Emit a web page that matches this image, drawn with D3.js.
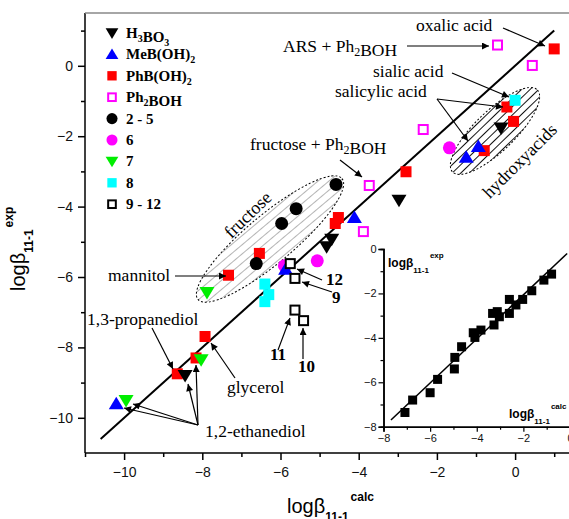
<!DOCTYPE html>
<html>
<head>
<meta charset="utf-8">
<script src="https://cdn.jsdelivr.net/npm/d3@7/dist/d3.min.js"></script>
<style>
  body { margin: 0; background: #fff; }
  text { font-family: "Liberation Sans", Arial, sans-serif; }
  .serif { font-family: "Liberation Serif", "Times New Roman", serif; }
</style>
</head>
<body>
<div id="chart"></div>
<script>
// [logb calc, logb exp]
const h3bo3 = [[-2.97, -3.82], [-0.36, -1.77], [-4.69, -4.93], [-4.82, -5.14], [-8.44, -8.8]];
const mebOH2 = [[-0.94, -2.29], [-1.25, -2.6], [-4.11, -4.31], [-5.87, -5.78], [-10.2, -9.6]];
const phbOH2 = [[1.0, 0.48], [-0.21, -1.17], [-0.04, -1.58], [-0.79, -2.41], [-2.79, -3.01],
  [-4.52, -4.31], [-4.6, -4.48], [-6.54, -5.33], [-7.33, -5.95], [-7.93, -7.69], [-8.16, -8.3], [-8.64, -8.75]];
const ph2bOH = [[-0.45, 0.59], [0.44, 0.01], [-2.35, -1.81], [-3.73, -3.4], [-3.88, -4.71]];
const cmp2to5 = [[-4.58, -3.37], [-5.6, -4.06], [-5.97, -4.48], [-6.62, -5.62]];
const cmp6 = [[-1.68, -2.33], [-5.06, -5.54], [-5.9, -5.68]];
const cmp7 = [[-7.88, -6.44], [-8.03, -8.35], [-9.95, -9.51]];
const cmp8 = [[0.0, -0.98], [-6.4, -6.2], [-6.3, -6.5], [-6.4, -6.7]];
const cmp9to12 = [[-5.75, -5.62], [-5.63, -6.04], [-5.63, -6.94], [-5.41, -7.24]];

// y = x reference line ends
const diagonal = [[-10.6, -10.6], [1.0, 1.0]];

// inset: filled squares and its fit line
const insetPoints = [[-7.08, -7.36], [-6.75, -6.8], [-6.0, -6.47], [-5.68, -5.87], [-4.96, -5.4],
  [-4.94, -4.88], [-4.65, -4.4], [-4.08, -3.98], [-4.15, -3.77], [-3.82, -3.65], [-3.26, -3.42],
  [-3.32, -2.9], [-3.12, -2.82], [-3.03, -3.05], [-2.6, -2.27], [-2.6, -2.9], [-2.32, -2.52],
  [-2.03, -2.27], [-1.64, -1.88], [-1.12, -1.4], [-0.79, -1.13]];
const insetFit = [[-7.68, -7.7], [-0.12, -0.2]];

const mainTicks = [-10, -8, -6, -4, -2, 0];
const insetTicks = [-8, -6, -4, -2, 0];

// legend order, "_x" means subscript x
const series = [
  { label: "H_3BO_3", data: h3bo3, shape: "down", color: "#000" },
  { label: "MeB(OH)_2", data: mebOH2, shape: "up", color: "#0000ff" },
  { label: "PhB(OH)_2", data: phbOH2, shape: "square", color: "#ff0000" },
  { label: "Ph_2BOH", data: ph2bOH, shape: "open", color: "#ff00ff" },
  { label: "2 - 5", data: cmp2to5, shape: "circle", color: "#000" },
  { label: "6", data: cmp6, shape: "circle", color: "#ff00ff" },
  { label: "7", data: cmp7, shape: "down", color: "#00ee00" },
  { label: "8", data: cmp8, shape: "square", color: "#00ffff" },
  { label: "9 - 12", data: cmp9to12, shape: "open", color: "#000" }
];
// draw order so overlaps look like the figure
const drawOrder = [2, 3, 4, 5, 0, 1, 6, 7, 8];

const W = 569, H = 519;
const svg = d3.select("#chart").append("svg").attr("width", W).attr("height", H);

const x = d3.scaleLinear().domain([-11, 1.5]).range([85, 85 + 12.5 * 39.1]);
const y = d3.scaleLinear().domain([-11, 1.5]).range([453, 13]);

const defs = svg.append("defs");
defs.append("marker").attr("id", "arr").attr("viewBox", "0 0 10 10")
  .attr("refX", 10).attr("refY", 5).attr("markerWidth", 9).attr("markerHeight", 7)
  .attr("markerUnits", "userSpaceOnUse").attr("orient", "auto")
  .append("path").attr("d", "M0,0 L10,5 L0,10 Z").attr("fill", "#000");

function hatch(id, color, gap) {
  const p = defs.append("pattern").attr("id", id).attr("patternUnits", "userSpaceOnUse")
    .attr("width", 8).attr("height", gap);
  p.append("rect").attr("width", 8).attr("height", gap).attr("fill", "#fff");
  p.append("line").attr("x1", 0).attr("x2", 8).attr("y1", 0.5).attr("y2", 0.5)
    .attr("stroke", color).attr("stroke-width", 1);
}
hatch("hatchGrey", "#b4b4b4", 7);
hatch("hatchDark", "#111", 6);

function marker(g, shape, color, cx, cy, s) {
  s = s || 1;
  if (shape === "square") {
    g.append("rect").attr("x", cx - 5.5 * s).attr("y", cy - 5.5 * s)
      .attr("width", 11 * s).attr("height", 11 * s).attr("fill", color);
  } else if (shape === "open") {
    g.append("rect").attr("x", cx - 4.5 * s).attr("y", cy - 4.5 * s)
      .attr("width", 9 * s).attr("height", 9 * s).attr("fill", "#fff")
      .attr("stroke", color).attr("stroke-width", 2);
  } else if (shape === "circle") {
    g.append("circle").attr("cx", cx).attr("cy", cy).attr("r", 6.5 * s).attr("fill", color);
  } else if (shape === "up") {
    g.append("path").attr("fill", color)
      .attr("d", `M${cx},${cy - 7 * s} L${cx + 7.5 * s},${cy + 5.5 * s} L${cx - 7.5 * s},${cy + 5.5 * s} Z`);
  } else if (shape === "down") {
    g.append("path").attr("fill", color)
      .attr("d", `M${cx - 7.5 * s},${cy - 5.5 * s} L${cx + 7.5 * s},${cy - 5.5 * s} L${cx},${cy + 7 * s} Z`);
  }
}

// ---- ellipses (behind everything)
function ellipse(cx, cy, rx, ry, ang, fill) {
  svg.append("ellipse").attr("cx", 0).attr("cy", 0).attr("rx", rx).attr("ry", ry)
    .attr("transform", `translate(${cx},${cy}) rotate(${ang})`)
    .attr("fill", fill).attr("stroke", "#000").attr("stroke-width", 1)
    .attr("stroke-dasharray", "2,2");
}
ellipse(270, 239, 94, 24, -40, "url(#hatchGrey)");
ellipse(495, 131, 59, 20, -44, "url(#hatchDark)");

// ---- axes
const xAxis = svg.append("g").attr("transform", `translate(0,${y(-11)})`)
  .call(d3.axisBottom(x).tickValues(mainTicks).tickSize(7).tickPadding(7).tickFormat(d3.format("d")));
const xMinor = svg.append("g").attr("transform", `translate(0,${y(-11)})`)
  .call(d3.axisBottom(x).tickValues([-11, -9, -7, -5, -3, -1, 1]).tickSize(4).tickFormat(""));
const yAxis = svg.append("g").attr("transform", `translate(${x(-11)},0)`)
  .call(d3.axisLeft(y).tickValues(mainTicks).tickSize(7).tickPadding(5).tickFormat(d3.format("d")));
const yMinor = svg.append("g").attr("transform", `translate(${x(-11)},0)`)
  .call(d3.axisLeft(y).tickValues([-9, -7, -5, -3, -1, 1]).tickSize(4).tickFormat(""));
[xAxis, xMinor, yAxis, yMinor].forEach(a => {
  a.selectAll(".domain").remove();
  a.selectAll("line").attr("stroke", "#000").attr("stroke-width", 1.5);
  a.selectAll("text").attr("font-size", 14).attr("fill", "#111")
    .style("font-family", "Liberation Sans, Arial, sans-serif");
});
svg.append("line").attr("x1", x(-11)).attr("x2", W).attr("y1", y(-11)).attr("y2", y(-11))
  .attr("stroke", "#000").attr("stroke-width", 1.5);
svg.append("line").attr("x1", x(-11)).attr("x2", x(-11)).attr("y1", y(1.5)).attr("y2", y(-11))
  .attr("stroke", "#000").attr("stroke-width", 1.5);
svg.append("line").attr("x1", x(-11)).attr("x2", W).attr("y1", y(1.5)).attr("y2", y(1.5))
  .attr("stroke", "#888").attr("stroke-width", 1.5);

// axis titles
const xt = svg.append("text").attr("x", 287).attr("y", 513).attr("font-size", 20).text("logβ");
xt.append("tspan").attr("dy", 8).attr("font-size", 12).attr("font-weight", "bold").text("11-1");
xt.append("tspan").attr("dy", -20).attr("dx", 2).attr("font-size", 12).attr("font-weight", "bold").text("calc");
const yt = svg.append("text").attr("transform", "translate(25,291) rotate(-90)").attr("font-size", 20).text("logβ");
yt.append("tspan").attr("dy", 8).attr("font-size", 12).attr("font-weight", "bold").text("11-1");
yt.append("tspan").attr("dy", -20).attr("dx", 2).attr("font-size", 12).attr("font-weight", "bold").text("exp");

// ---- y = x line
svg.append("path").datum(diagonal)
  .attr("d", d3.line().x(d => x(d[0])).y(d => y(d[1])))
  .attr("stroke", "#000").attr("stroke-width", 2).attr("fill", "none");

// ---- data points
const pts = svg.append("g");
drawOrder.forEach(i => {
  const s = series[i];
  s.data.forEach(d => marker(pts, s.shape, s.color, x(d[0]), y(d[1])));
});

// ---- legend
function subText(t, str, subSize) {
  str.split(/(_.)/).forEach(part => {
    if (part.startsWith("_")) {
      t.append("tspan").attr("dy", 4).attr("font-size", subSize).text(part.slice(1));
      t.append("tspan").attr("dy", -4).text("");
    } else if (part) {
      t.append("tspan").text(part);
    }
  });
}
const legend = svg.append("g");
series.forEach((s, i) => {
  const ly = 33 + i * 21.4;
  marker(legend, s.shape, s.color, 112, ly, 0.85);
  const t = legend.append("text").attr("class", "serif").attr("x", 126).attr("y", ly + 5)
    .attr("font-size", 15).attr("font-weight", "bold");
  subText(t, s.label, 10);
});

// ---- annotations
const notes = [
  { t: "oxalic acid", x: 416, y: 31 },
  { t: "ARS + Ph_2BOH", x: 283, y: 52 },
  { t: "sialic acid", x: 373, y: 77 },
  { t: "salicylic acid", x: 335, y: 97 },
  { t: "fructose + Ph_2BOH", x: 250, y: 150 },
  { t: "mannitol", x: 108, y: 281 },
  { t: "1,3-propanediol", x: 87, y: 325 },
  { t: "glycerol", x: 227, y: 393 },
  { t: "1,2-ethanediol", x: 205, y: 437 }
];
notes.forEach(n => {
  const t = svg.append("text").attr("class", "serif").attr("x", n.x).attr("y", n.y).attr("font-size", 17.5);
  subText(t, n.t, 12);
});
const numbers = [
  { t: "12", x: 326, y: 285 }, { t: "9", x: 332, y: 303 },
  { t: "11", x: 270, y: 360 }, { t: "10", x: 298, y: 372 }
];
numbers.forEach(n => {
  svg.append("text").attr("class", "serif").attr("x", n.x).attr("y", n.y)
    .attr("font-size", 17).attr("font-weight", "bold").text(n.t);
});
svg.append("text").attr("class", "serif").attr("font-size", 18)
  .attr("text-anchor", "middle").attr("transform", "translate(524,165) rotate(-45)").text("hydroxyacids");
svg.append("text").attr("class", "serif").attr("font-size", 18)
  .attr("text-anchor", "middle").attr("transform", "translate(252,219) rotate(-44)").text("fructose");

const arrows = [
  [503, 28, 545, 46], [407, 46, 489, 46], [452, 73, 509, 97],
  [437, 99, 503, 107], [437, 99, 468, 141], [340, 160, 362, 177],
  [175, 276, 226, 276], [322, 280, 297, 269], [332, 292, 302, 282],
  [278, 350, 290, 318], [303, 359, 303, 328], [152, 328, 173, 369],
  [235, 378, 211, 343], [198, 425, 188, 384], [198, 425, 196, 365],
  [198, 425, 133, 404], [198, 425, 124, 408]
];
arrows.forEach(a => {
  svg.append("line").attr("x1", a[0]).attr("y1", a[1]).attr("x2", a[2]).attr("y2", a[3])
    .attr("stroke", "#000").attr("stroke-width", 1.2).attr("marker-end", "url(#arr)");
});

// ---- inset
const xi = d3.scaleLinear().domain([-8, 0]).range([383.5, 570]);
const yi = d3.scaleLinear().domain([-8, 0]).range([426.7, 249]);
const inset = svg.append("g");
inset.append("rect").attr("x", 362).attr("y", 242).attr("width", W - 362).attr("height", 206).attr("fill", "#fff");
const xia = inset.append("g").attr("transform", `translate(0,${yi(-8)})`)
  .call(d3.axisBottom(xi).tickValues(insetTicks).tickSize(5).tickPadding(3).tickFormat(d3.format("d")));
const xim = inset.append("g").attr("transform", `translate(0,${yi(-8)})`)
  .call(d3.axisBottom(xi).tickValues([-7, -5, -3, -1]).tickSize(3).tickFormat(""));
const yia = inset.append("g").attr("transform", `translate(${xi(-8)},0)`)
  .call(d3.axisLeft(yi).tickValues(insetTicks).tickSize(5).tickPadding(2).tickFormat(d3.format("d")));
const yim = inset.append("g").attr("transform", `translate(${xi(-8)},0)`)
  .call(d3.axisLeft(yi).tickValues([-7, -5, -3, -1]).tickSize(3).tickFormat(""));
[xia, xim, yia, yim].forEach(a => {
  a.selectAll(".domain").attr("stroke", "#000").attr("stroke-width", 1.5);
  a.selectAll("line").attr("stroke", "#000").attr("stroke-width", 1.2);
  a.selectAll("text").attr("font-size", 11).attr("fill", "#111")
    .style("font-family", "Liberation Sans, Arial, sans-serif");
});
inset.append("path").datum(insetFit)
  .attr("d", d3.line().x(d => xi(d[0])).y(d => yi(d[1])))
  .attr("stroke", "#000").attr("stroke-width", 1.5).attr("fill", "none");
inset.selectAll(".sq").data(insetPoints).join("rect").attr("class", "sq")
  .attr("x", d => xi(d[0]) - 4.5).attr("y", d => yi(d[1]) - 4.5)
  .attr("width", 9).attr("height", 9).attr("fill", "#000");

const it1 = inset.append("text").attr("x", 388).attr("y", 267).attr("font-size", 12).attr("font-weight", "bold").text("logβ");
it1.append("tspan").attr("dy", 6).attr("font-size", 8).text("11-1");
it1.append("tspan").attr("dy", -15).attr("dx", 1).attr("font-size", 8).text("exp");
const it2 = inset.append("text").attr("x", 509).attr("y", 418).attr("font-size", 12).attr("font-weight", "bold").text("logβ");
it2.append("tspan").attr("dy", 6).attr("font-size", 8).text("11-1");
it2.append("tspan").attr("dy", -15).attr("dx", 1).attr("font-size", 8).text("calc");
</script>
</body>
</html>
